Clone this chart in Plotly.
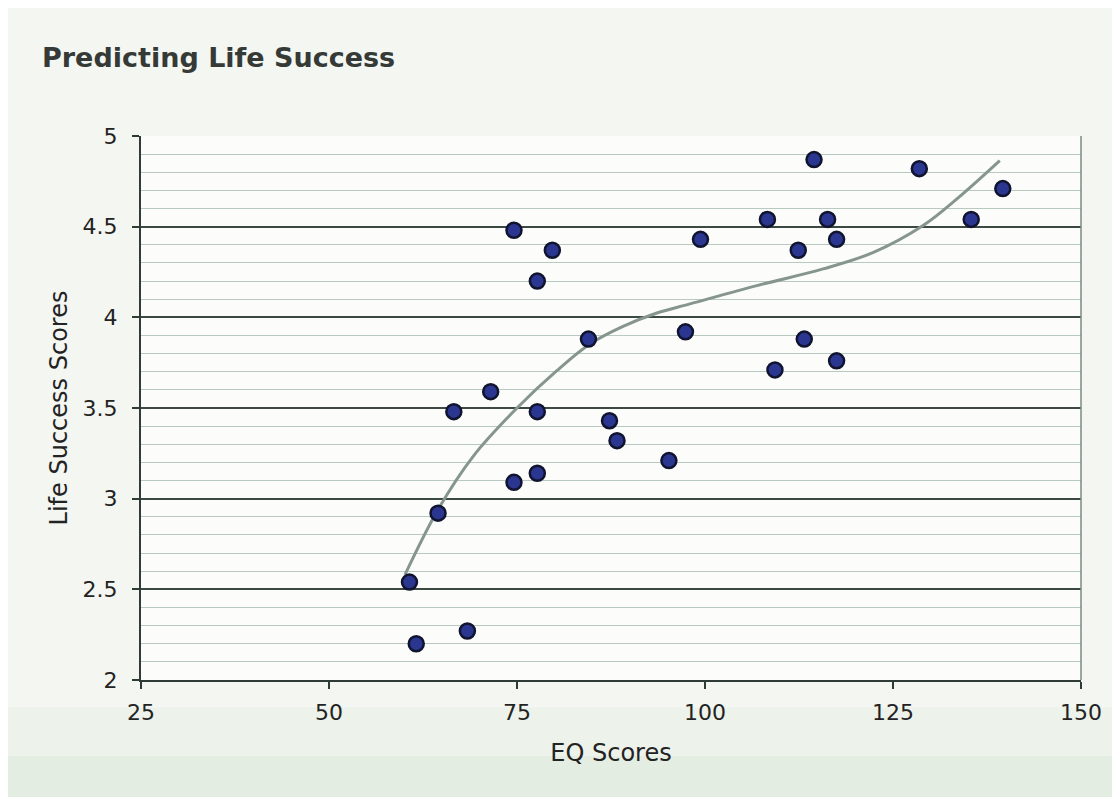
import plotly.graph_objects as go

# Scatter data (EQ score, life success score)
eq_scores = [60.7, 61.6, 64.5, 66.6, 68.4, 71.5, 74.6, 74.6, 77.7, 77.7,
             77.7, 79.7, 84.5, 87.3, 88.3, 95.2, 97.4, 99.4, 108.3, 109.3,
             112.4, 113.2, 114.5, 116.3, 117.5, 117.5, 128.5, 135.4, 139.6]
life_scores = [2.54, 2.20, 2.92, 3.48, 2.27, 3.59, 3.09, 4.48, 4.20, 3.48,
               3.14, 4.37, 3.88, 3.43, 3.32, 3.21, 3.92, 4.43, 4.54, 3.71,
               4.37, 3.88, 4.87, 4.54, 4.43, 3.76, 4.82, 4.54, 4.71]

# Trend line
trend_x = [60.1, 64.5, 69.2, 75.0, 80.3, 84.7, 89.1, 93.6, 98.0, 106.9,
           115.7, 122.4, 129.0, 133.5, 139.2]
trend_y = [2.58, 2.94, 3.235, 3.50, 3.706, 3.853, 3.95, 4.024, 4.074, 4.175,
           4.267, 4.358, 4.506, 4.653, 4.864]

x_ticks = [25, 50, 75, 100, 125, 150]
y_ticks = [2, 2.5, 3, 3.5, 4, 4.5, 5]

FONT = "DejaVu Sans"
TXT = "#232323"

fig = go.Figure()
fig.add_trace(go.Scatter(
    x=trend_x, y=trend_y, mode="lines", line_shape="spline",
    line=dict(color="#86958e", width=3), hoverinfo="skip", showlegend=False))
fig.add_trace(go.Scatter(
    x=eq_scores, y=life_scores, mode="markers", showlegend=False,
    marker=dict(size=15, color="#2b3690", line=dict(color="#10142e", width=2.5))))

# page body has an 8px margin, so the figure is sized/offset to compensate
fig.update_layout(
    width=1112, height=789,
    margin=dict(l=133, r=39, t=128, b=117),
    paper_bgcolor="#f3f6f1",
    plot_bgcolor="#fcfdfb",
    font=dict(family=FONT, color=TXT, size=22),
    title=dict(text="<b>Predicting Life Success</b>", x=0.0306, xanchor="left",
               y=0.937, yanchor="middle",
               font=dict(family=FONT, size=27, color="#353a37")),
    shapes=[
        dict(type="rect", xref="paper", yref="paper", x0=-0.2, x1=1.1,
             y0=-0.22, y1=-0.05, fillcolor="#edf2eb", line=dict(width=0),
             layer="below"),
        dict(type="rect", xref="paper", yref="paper", x0=-0.2, x1=1.1,
             y0=-0.22, y1=-0.14, fillcolor="#e3ede1", line=dict(width=0),
             layer="below"),
    ],
)
fig.update_xaxes(
    range=[25, 150], tickvals=x_ticks, ticktext=[str(v) for v in x_ticks],
    showgrid=False, zeroline=False,
    showline=True, linecolor="#2f3b36", linewidth=2, mirror=False,
    ticks="outside", ticklen=7, tickwidth=2, tickcolor="#2f3b36",
    ticklabelstandoff=5,
    tickfont=dict(size=22, color=TXT),
    title=dict(text="EQ Scores", font=dict(size=24, color=TXT), standoff=20),
)
fig.update_yaxes(
    range=[2, 5], tickvals=y_ticks, ticktext=[f"{v:g}" for v in y_ticks],
    showgrid=True, gridcolor="#3d4a44", gridwidth=1.5, zeroline=False,
    minor=dict(dtick=0.1, showgrid=True, gridcolor="#b8cabf", gridwidth=1),
    showline=True, linecolor="#2f3b36", linewidth=2,
    ticks="outside", ticklen=7, tickwidth=2, tickcolor="#2f3b36",
    ticklabelstandoff=10,
    tickfont=dict(size=22, color=TXT),
    title=dict(text="Life Success Scores", font=dict(size=24, color=TXT), standoff=8),
)
# right border
fig.add_shape(type="line", xref="paper", yref="paper", x0=1, x1=1, y0=0, y1=1,
              line=dict(color="#7d8a84", width=1.5))

fig.write_html("out.html")
